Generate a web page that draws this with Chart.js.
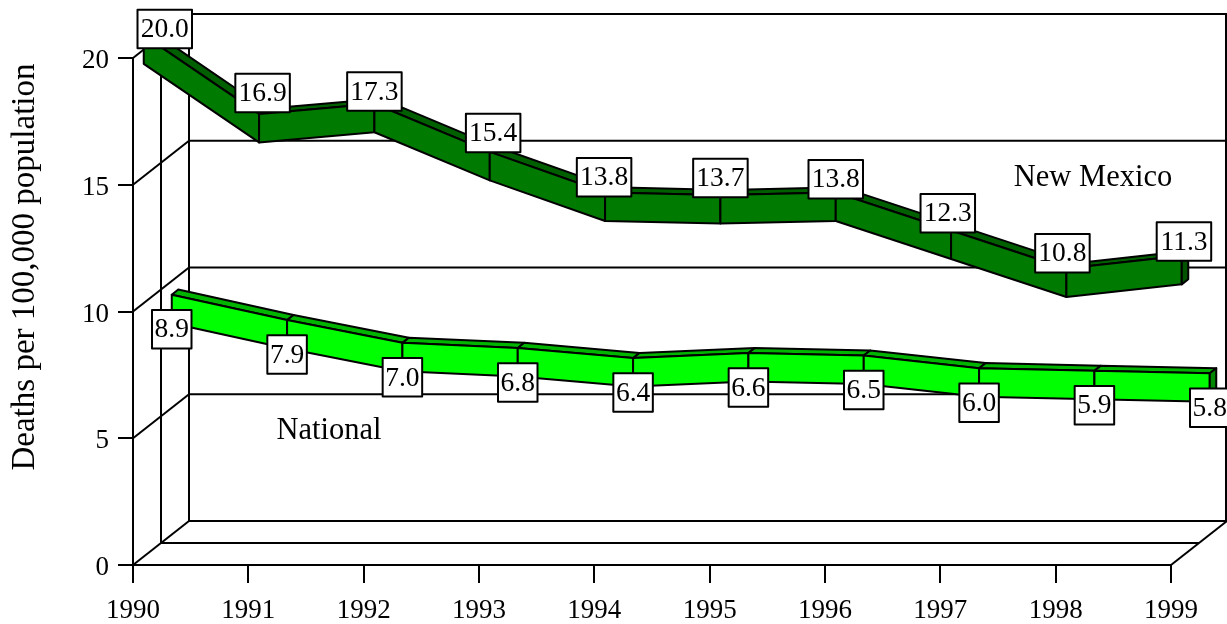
<!DOCTYPE html>
<html>
<head>
<meta charset="utf-8">
<title>Deaths per 100,000 population</title>
<script src="https://cdn.jsdelivr.net/npm/chart.js@4/dist/chart.umd.min.js"></script>
<style>
  html, body { margin: 0; padding: 0; background: #fff; overflow: hidden; }
  canvas { display: block; }
</style>
</head>
<body>
<canvas id="trend-chart" width="1227" height="624"></canvas>
<script>
const years = ['1990', '1991', '1992', '1993', '1994', '1995', '1996', '1997', '1998', '1999']
const newMexico = [20.0, 16.9, 17.3, 15.4, 13.8, 13.7, 13.8, 12.3, 10.8, 11.3]
const national = [8.9, 7.9, 7.0, 6.8, 6.4, 6.6, 6.5, 6.0, 5.9, 5.8]

const serif = '"Liberation Serif", "Times New Roman", serif'
const black = '#000'
const lineW = 2

// floor depth of the 3d box, in pixels
const depthX = 56
const depthY = 44
const ribbonHalf = 14.25

// small hand nudges for the boxed labels of the top series
const nmNudge = [[21, 10], [3.5, -4.6], [0, 4], [3.4, -2.6], [-1, 1], [0, -0.7], [0, 3], [-3.3, -1], [-4, 1], [2.2, 2]]

const ribbons = [
    { index: 1, front: 38.75, back: 45.25, face: '#00ff00', top: '#00b400', cap: '#008800' },
    { index: 0, front: 10.75, back: 17.25, face: '#007a00', top: '#006000', cap: '#005400' }
]

function line(ctx, x1, y1, x2, y2) {
    ctx.beginPath()
    ctx.moveTo(x1, y1)
    ctx.lineTo(x2, y2)
    ctx.stroke()
}

function quad(ctx, pts, fill) {
    ctx.beginPath()
    ctx.moveTo(pts[0][0], pts[0][1])
    pts.slice(1).forEach(p => ctx.lineTo(p[0], p[1]))
    ctx.closePath()
    ctx.fillStyle = fill
    ctx.fill()
    ctx.stroke()
}

function boxLabel(ctx, text, cx, cy, w, h) {
    ctx.fillStyle = '#fff'
    ctx.fillRect(cx - w / 2, cy - h / 2, w, h)
    ctx.strokeRect(cx - w / 2, cy - h / 2, w, h)
    ctx.fillStyle = black
    ctx.fillText(text, cx, cy + 1)
}

const box3d = {
    id: 'box3d',
    // walls and floor behind the ribbons
    beforeDatasetsDraw(chart) {
        const ctx = chart.ctx
        const { x, y } = chart.scales
        const left = x.getPixelForValue(0)
        const right = x.getPixelForValue(years.length - 1)
        const base = y.getPixelForValue(0)
        const top = y.getPixelForValue(20)
        ctx.save()
        ctx.strokeStyle = black
        ctx.lineWidth = lineW
        // side and back wall
        line(ctx, left + depthX / 2, base - depthY / 2, left + depthX / 2, top - depthY / 2)
        line(ctx, left + depthX, base - depthY, left + depthX, top - depthY)
        line(ctx, right + depthX - 1, base - depthY, right + depthX - 1, top - depthY)
        ;[0, 5, 10, 15, 20].forEach(v => {
            const py = y.getPixelForValue(v)
            line(ctx, left, py, left + depthX, py - depthY)
            line(ctx, left + depthX, py - depthY, right + depthX, py - depthY)
        })
        // floor
        line(ctx, left + depthX / 2, base - depthY / 2, right + depthX / 2, base - depthY / 2)
        line(ctx, right, base, right + depthX, base - depthY)

        // y tick labels sit a little under their ticks in the original
        ctx.fillStyle = black
        ctx.font = '27px ' + serif
        ctx.textAlign = 'right'
        ctx.textBaseline = 'middle'
        y.ticks.forEach(t => ctx.fillText(String(t.value), 109, y.getPixelForValue(t.value) + 3))
        ctx.restore()
    },
    afterDatasetsDraw(chart) {
        const ctx = chart.ctx
        ctx.save()
        ctx.strokeStyle = black
        ctx.lineWidth = lineW
        ctx.lineJoin = 'round'
        const slope = depthY / depthX

        ribbons.forEach(r => {
            const pts = chart.getDatasetMeta(r.index).data
            const fx = p => p.x + r.front
            const fy = p => p.y - r.front * slope
            const bx = p => p.x + r.back
            const by = p => p.y - r.back * slope
            for (let i = 0; i < pts.length - 1; i++) {
                const a = pts[i]
                const b = pts[i + 1]
                quad(ctx, [
                    [fx(a), fy(a) - ribbonHalf], [bx(a), by(a) - ribbonHalf],
                    [bx(b), by(b) - ribbonHalf], [fx(b), fy(b) - ribbonHalf]
                ], r.top)
                quad(ctx, [
                    [fx(a), fy(a) - ribbonHalf], [fx(b), fy(b) - ribbonHalf],
                    [fx(b), fy(b) + ribbonHalf], [fx(a), fy(a) + ribbonHalf]
                ], r.face)
            }
            const e = pts[pts.length - 1]
            quad(ctx, [
                [fx(e), fy(e) - ribbonHalf], [bx(e), by(e) - ribbonHalf],
                [bx(e), by(e) + ribbonHalf], [fx(e), fy(e) + ribbonHalf]
            ], r.cap)
        })

        // boxed value labels
        ctx.font = '27.5px ' + serif
        ctx.textAlign = 'center'
        ctx.textBaseline = 'middle'
        chart.getDatasetMeta(1).data.forEach((p, i) => {
            boxLabel(ctx, national[i].toFixed(1), p.x + 38.75, p.y - 33 + 22.8, 39.5, 38.5)
        })
        chart.getDatasetMeta(0).data.forEach((p, i) => {
            boxLabel(ctx, newMexico[i].toFixed(1), p.x + 10.75 + nmNudge[i][0], p.y - 11 - 28 + nmNudge[i][1], 54.5, 38.5)
        })

        // series names
        ctx.fillStyle = black
        ctx.font = '30.5px ' + serif
        ctx.fillText('New Mexico', 1093, 178)
        ctx.fillText('National', 329, 431)

        // axis title, kept high like the original
        ctx.font = '33px ' + serif
        ctx.translate(25, 267)
        ctx.rotate(-Math.PI / 2)
        ctx.fillText(chart.scales.y.options.title.text, 0, 0)
        ctx.restore()
    }
}

const trendCtx = document.getElementById('trend-chart').getContext('2d')
new Chart(trendCtx, {
    type: 'line',
    data: {
        labels: years,
        datasets: [
            { label: 'New Mexico', data: newMexico, showLine: false, pointRadius: 0, borderColor: '#007a00' },
            { label: 'National', data: national, showLine: false, pointRadius: 0, borderColor: '#00ff00' }
        ]
    },
    options: {
        responsive: false,
        animation: false,
        layout: { padding: { top: 58, right: 56, left: 0, bottom: 0 } },
        plugins: {
            legend: { display: false },
            tooltip: { enabled: false }
        },
        scales: {
            x: {
                offset: false,
                afterFit(scale) { scale.height = 59 },
                border: { color: black, width: lineW },
                grid: { drawOnChartArea: false, color: black, lineWidth: lineW, tickLength: 18, tickWidth: lineW, tickColor: black },
                ticks: { color: black, font: { family: serif, size: 27 }, padding: 12, maxRotation: 0, autoSkip: false }
            },
            y: {
                min: 0,
                max: 20,
                afterFit(scale) { scale.width = 133 },
                title: { display: false, text: 'Deaths per 100,000 population' },
                border: { color: black, width: lineW },
                grid: { drawOnChartArea: false, color: black, lineWidth: lineW, tickLength: 15, tickWidth: lineW, tickColor: black },
                ticks: { display: false, stepSize: 5 }
            }
        }
    },
    plugins: [box3d]
})
</script>
</body>
</html>
